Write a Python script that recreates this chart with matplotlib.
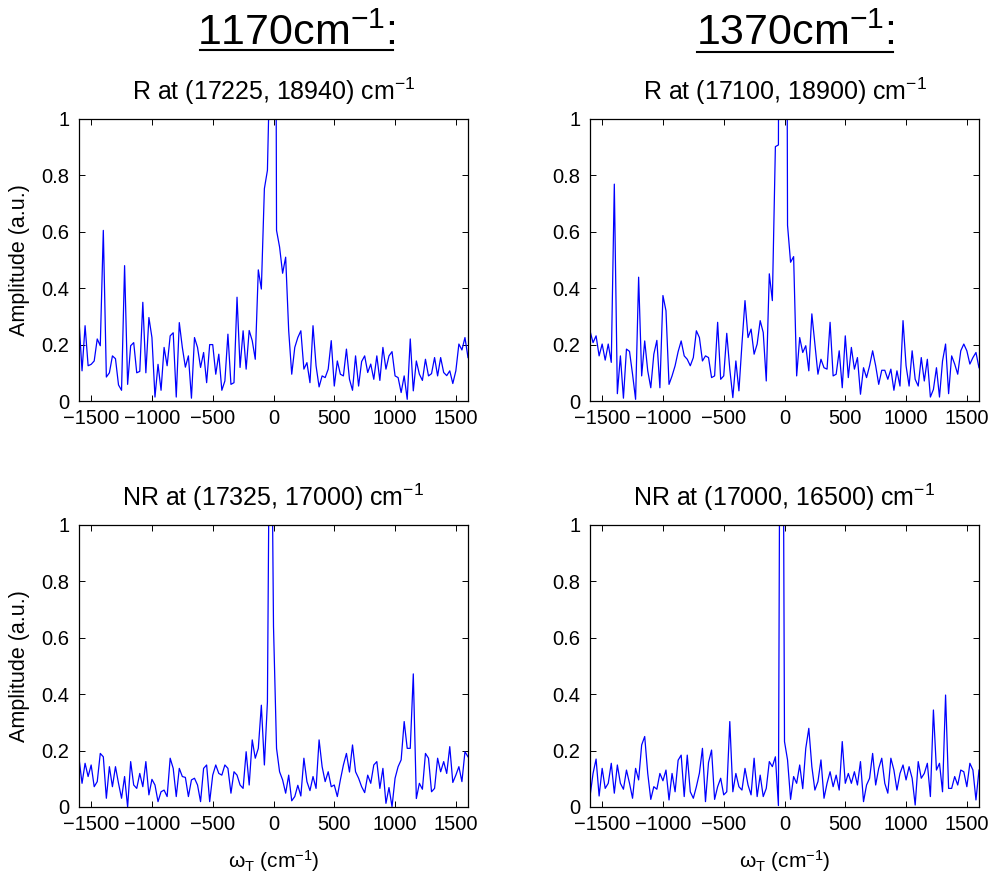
import numpy as np
import matplotlib
matplotlib.use("Agg")
import matplotlib.pyplot as plt
from matplotlib.lines import Line2D

plt.rcParams['font.family'] = ['Liberation Sans', 'DejaVu Sans']
plt.rcParams['mathtext.fontset'] = 'custom'
plt.rcParams['mathtext.rm'] = 'Liberation Sans'
plt.rcParams['mathtext.it'] = 'Liberation Sans:italic'

# detuning axis (cm^-1), 25 cm^-1 steps
omega = np.arange(-1600, 1601, 25)

# resonant / non-resonant spectra (peaks above 1 are clipped)
r_1170 = [0.285, 0.107, 0.267, 0.125, 0.13, 0.142, 0.22, 0.196, 0.605, 0.085,
          0.1, 0.16, 0.15, 0.057, 0.038, 0.48, 0.059, 0.196, 0.207, 0.1,
          0.105, 0.35, 0.1, 0.296, 0.225, 0.014, 0.13, 0.038, 0.19, 0.125,
          0.231, 0.242, 0.014, 0.278, 0.19, 0.12, 0.16, 0.01, 0.225, 0.19,
          0.119, 0.172, 0.065, 0.2, 0.2, 0.095, 0.166, 0.038, 0.071, 0.237,
          0.059, 0.065, 0.368, 0.119, 0.249, 0.113, 0.25, 0.214, 0.148, 0.465,
          0.397, 0.753, 0.818, 1.3, 4.4, 0.605, 0.546, 0.453, 0.51, 0.249,
          0.095, 0.19, 0.225, 0.249, 0.113, 0.136, 0.065, 0.267, 0.125, 0.05,
          0.089, 0.083, 0.113, 0.214, 0.053, 0.142, 0.095, 0.089, 0.184, 0.077,
          0.038, 0.16, 0.053, 0.14, 0.16, 0.101, 0.131, 0.077, 0.16, 0.073,
          0.19, 0.113, 0.16, 0.175, 0.089, 0.083, 0.03, 0.089, 0.006, 0.22,
          0.036, 0.142, 0.095, 0.073, 0.148, 0.089, 0.097, 0.154, 0.089, 0.154,
          0.101, 0.09, 0.107, 0.062, 0.107, 0.202, 0.181, 0.225, 0.154]

r_1370 = [0.249, 0.207, 0.231, 0.16, 0.202, 0.145, 0.202, 0.137, 0.769, 0.026,
          0.16, 0.010, 0.184, 0.176, 0.095, 0.006, 0.439, 0.089, 0.213, 0.107,
          0.047, 0.166, 0.215, 0.047, 0.374, 0.32, 0.059, 0.089, 0.125, 0.175,
          0.213, 0.16, 0.148, 0.125, 0.154, 0.249, 0.225, 0.142, 0.16, 0.154,
          0.083, 0.089, 0.279, 0.077, 0.089, 0.24, 0.113, 0.012, 0.142, 0.036,
          0.202, 0.356, 0.225, 0.255, 0.166, 0.202, 0.285, 0.243, 0.071, 0.451,
          0.356, 0.902, 0.908, 5.0, 4.6, 0.623, 0.492, 0.512, 0.089, 0.225,
          0.172, 0.196, 0.107, 0.309, 0.202, 0.095, 0.148, 0.118, 0.113, 0.279,
          0.089, 0.095, 0.178, 0.047, 0.231, 0.083, 0.19, 0.113, 0.154, 0.024,
          0.118, 0.083, 0.125, 0.178, 0.125, 0.059, 0.109, 0.109, 0.077, 0.113,
          0.038, 0.107, 0.053, 0.285, 0.125, 0.053, 0.178, 0.077, 0.053, 0.154,
          0.071, 0.148, 0.014, 0.041, 0.118, 0.014, 0.142, 0.202, 0.026, 0.16,
          0.131, 0.095, 0.178, 0.202, 0.178, 0.131, 0.154, 0.172, 0.118]

nr_1170 = [0.173, 0.084, 0.155, 0.108, 0.149, 0.072, 0.09, 0.19, 0.178, 0.031,
           0.143, 0.072, 0.143, 0.084, 0.031, 0.108, 0.0, 0.161, 0.078, 0.066,
           0.119, 0.072, 0.161, 0.043, 0.098, 0.078, 0.019, 0.054, 0.06, 0.037,
           0.173, 0.137, 0.037, 0.137, 0.108, 0.105, 0.037, 0.096, 0.102, 0.078,
           0.019, 0.137, 0.149, 0.019, 0.113, 0.149, 0.119, 0.113, 0.149, 0.137,
           0.049, 0.125, 0.113, 0.078, 0.066, 0.196, 0.078, 0.238, 0.173, 0.208,
           0.361, 0.149, 0.373, 1.9, 0.64, 0.208, 0.125, 0.096, 0.049, 0.113,
           0.022, 0.037, 0.077, 0.039, 0.173, 0.09, 0.058, 0.108, 0.066, 0.238,
           0.143, 0.09, 0.125, 0.072, 0.078, 0.037, 0.096, 0.149, 0.19, 0.124,
           0.22, 0.125, 0.102, 0.072, 0.051, 0.113, 0.084, 0.149, 0.161, 0.066,
           0.137, 0.013, 0.069, 0.001, 0.102, 0.143, 0.167, 0.303, 0.208, 0.208,
           0.472, 0.03, 0.084, 0.063, 0.19, 0.173, 0.054, 0.066, 0.173, 0.125,
           0.161, 0.119, 0.214, 0.087, 0.113, 0.143, 0.09, 0.196, 0.178]

nr_1370 = [0.037, 0.119, 0.17, 0.039, 0.137, 0.066, 0.084, 0.155, 0.049, 0.149,
           0.084, 0.063, 0.131, 0.084, 0.031, 0.137, 0.096, 0.22, 0.25, 0.119,
           0.027, 0.072, 0.063, 0.119, 0.093, 0.131, 0.025, 0.119, 0.054, 0.166,
           0.184, 0.037, 0.184, 0.054, 0.031, 0.072, 0.12, 0.208, 0.019, 0.158,
           0.202, 0.027, 0.072, 0.102, 0.043, 0.054, 0.303, 0.054, 0.119, 0.072,
           0.06, 0.137, 0.078, 0.043, 0.173, 0.037, 0.113, 0.037, 0.066, 0.161,
           0.143, 0.178, 0.005, 3.0, 0.232, 0.167, 0.027, 0.108, 0.084, 0.149,
           0.065, 0.208, 0.279, 0.143, 0.06, 0.09, 0.167, 0.031, 0.084, 0.125,
           0.072, 0.113, 0.06, 0.232, 0.084, 0.119, 0.084, 0.125, 0.078, 0.161,
           0.019, 0.078, 0.102, 0.19, 0.078, 0.137, 0.173, 0.084, 0.049, 0.173,
           0.131, 0.06, 0.119, 0.149, 0.096, 0.143, 0.102, 0.007, 0.161, 0.102,
           0.119, 0.155, 0.037, 0.344, 0.131, 0.155, 0.054, 0.397, 0.066, 0.066,
           0.108, 0.078, 0.131, 0.125, 0.072, 0.155, 0.131, 0.025, 0.131]

headers = ['1170', '1370']
titles = ['R at (17225, 18940) cm$^{-1}$', 'R at (17100, 18900) cm$^{-1}$',
          'NR at (17325, 17000) cm$^{-1}$', 'NR at (17000, 16500) cm$^{-1}$']
spectra = [r_1170, r_1370, nr_1170, nr_1370]
xticks = [-1500, -1000, -500, 0, 500, 1000, 1500]
yticks = [0, 0.2, 0.4, 0.6, 0.8, 1]
ytick_labels = ['0', '0.2', '0.4', '0.6', '0.8', '1']

W, H = 995, 880
fig = plt.figure(figsize=(W / 100, H / 100), dpi=100)

lefts = [79, 590]
tops = [119, 525]
aw, ah = 389, 282

for k in range(4):
    row, col = divmod(k, 2)
    x0 = lefts[col]
    y0 = tops[row]
    ax = fig.add_axes([x0 / W, 1 - (y0 + ah) / H, aw / W, ah / H])
    ax.plot(omega, spectra[k], color='#0000ff', lw=0.9)
    ax.set_xlim(-1600, 1600)
    ax.set_ylim(0, 1)
    ax.set_xticks(xticks)
    ax.set_xticklabels([str(t).replace('-', '\u2212') for t in xticks])
    ax.set_yticks(yticks)
    ax.set_yticklabels(ytick_labels)
    ax.tick_params(direction='in', top=True, right=True, length=4.5,
                   width=0.7, labelsize=14.5)
    ax.tick_params(axis='x', pad=6)
    ax.tick_params(axis='y', pad=7)
    for s in ax.spines.values():
        s.set_linewidth(0.9)
    ax.set_title(titles[k], fontsize=18, pad=14)
    if col == 0:
        ax.set_ylabel('Amplitude (a.u.)', fontsize=15.5)
        ax.yaxis.set_label_coords(-0.125, 0.5)
    if row == 1:
        ax.set_xlabel('\u03c9$_\\mathrm{T}$ (cm$^{-1}$)', fontsize=15)
        ax.xaxis.set_label_coords(0.5, -0.145)

# column headers with underline
for col, h in enumerate(headers):
    cx = 296 if col == 0 else 795
    fig.text(cx / W, 1 - 45 / H, h + 'cm$^{-1}$:', fontsize=31,
             ha='center', va='baseline')
    x_a, x_b = (200, 393) if col == 0 else (697, 893)
    yy = 50 if col == 0 else 52
    fig.add_artist(Line2D([x_a / W, x_b / W], [1 - yy / H, 1 - yy / H],
                          color='black', lw=1.5))

fig.savefig('out.png', dpi=100)
